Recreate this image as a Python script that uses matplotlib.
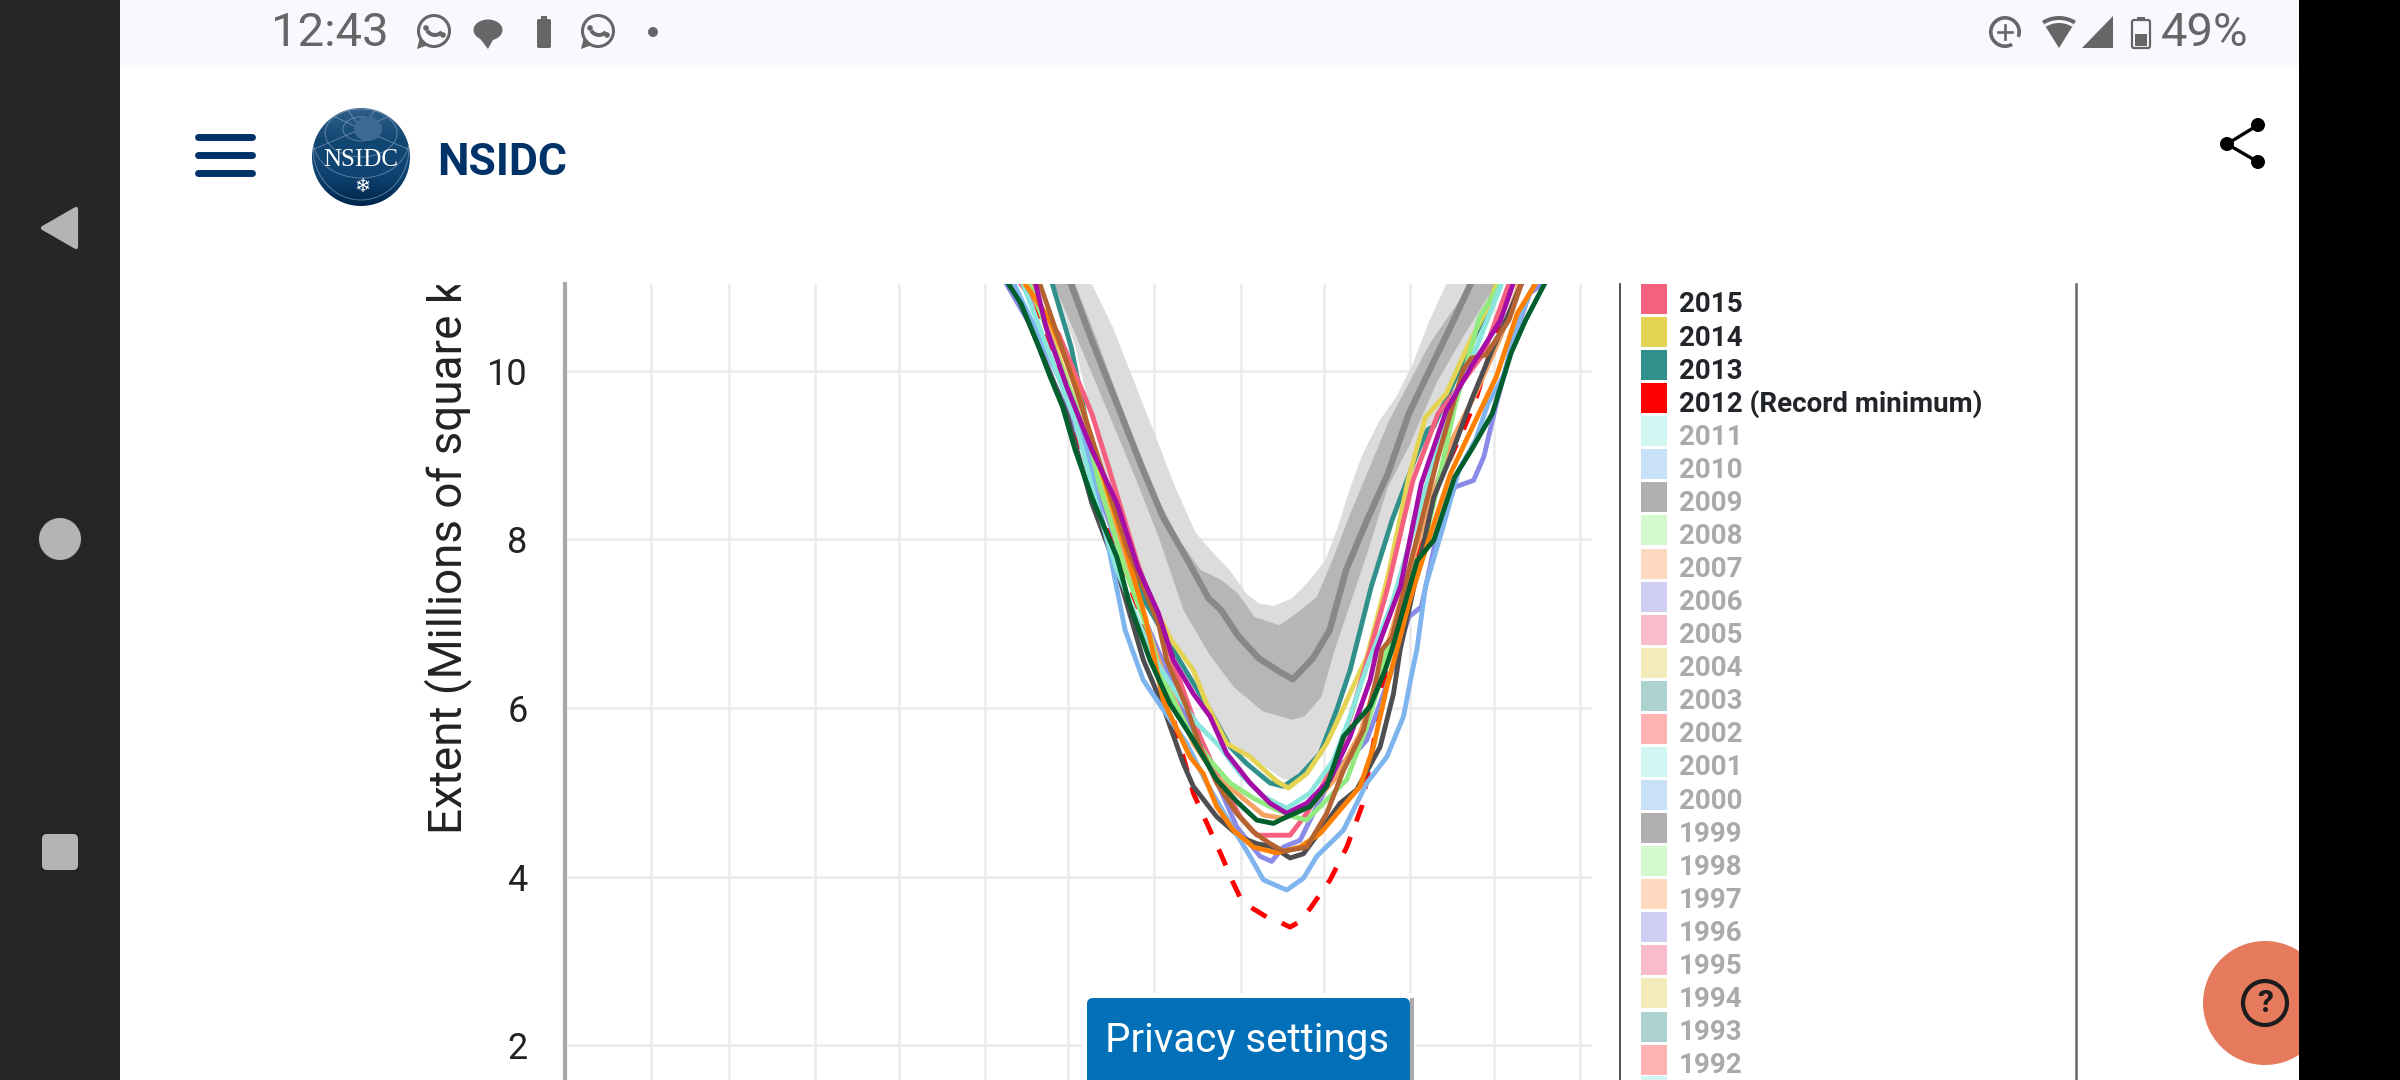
import numpy as np
import matplotlib
matplotlib.use('Agg')
import matplotlib.pyplot as plt
from matplotlib.colors import LinearSegmentedColormap
from matplotlib.patches import Rectangle, Circle, Ellipse, Polygon, Wedge, FancyBboxPatch

plt.rcParams['font.family'] = ['Roboto', 'DejaVu Sans']
plt.rcParams['lines.solid_joinstyle'] = 'round'

# Gridlines and axis ticks
month_starts = [32, 60, 91, 121, 152, 182, 213, 244, 274, 305, 335, 366]
extent_ticks = [2, 4, 6, 8, 10]

# Grey climatology (day of year, millions of square km)
doy_median = [181, 183, 190.5, 199.5, 208.5, 216, 225, 232.5, 237, 243, 250.5, 258, 262.8, 270, 276, 282, 289.5, 297, 304.5, 312, 319.5, 326.3, 329]
ext_median = [11.2, 11.03, 10.36, 9.61, 8.86, 8.27, 7.75, 7.30, 7.16, 6.86, 6.59, 6.43, 6.34, 6.59, 6.92, 7.64, 8.23, 8.78, 9.49, 10.01, 10.52, 11.0, 11.2]

doy_iqr_up = [183, 184.5, 192, 199.5, 207, 214.5, 222, 229.5, 237, 243, 249, 258, 264, 271.5, 277.5, 283.5, 289.5, 297, 304.5, 312, 319.5, 327, 330]
ext_iqr_up = [11.2, 11.03, 10.40, 9.73, 9.06, 8.47, 7.99, 7.64, 7.52, 7.36, 7.08, 6.98, 7.12, 7.32, 7.79, 8.31, 8.78, 9.38, 9.85, 10.32, 10.68, 11.03, 11.2]
doy_iqr_lo = [175, 177.8, 184.5, 192, 199.5, 207, 214.5, 223.5, 232.5, 241.5, 252, 262.5, 267, 273, 277.5, 283.5, 289.5, 297, 304.5, 315, 324, 334.5, 337]
ext_iqr_lo = [11.2, 10.96, 10.44, 9.85, 9.26, 8.66, 8.03, 7.16, 6.65, 6.25, 5.96, 5.86, 5.90, 6.13, 6.65, 7.24, 7.83, 8.62, 9.10, 9.89, 10.40, 10.96, 11.2]

doy_std_up = [189, 190.5, 198, 205.5, 213, 220.5, 228, 235.5, 240, 246, 250.5, 255.8, 262.5, 268.5, 274.5, 279, 283.5, 288, 294, 300, 306, 312, 318, 321]
ext_std_up = [11.2, 11.03, 10.52, 9.89, 9.26, 8.62, 8.07, 7.79, 7.64, 7.36, 7.24, 7.21, 7.30, 7.50, 7.75, 8.15, 8.62, 9.02, 9.41, 9.69, 10.09, 10.60, 11.03, 11.2]
doy_std_lo = [175, 177, 184.5, 192, 201, 219, 230.6, 237.8, 246.2, 259.4, 264.2, 270.2, 275, 281, 285.2, 291, 298.5, 307.5, 321, 331.5, 336, 339]
ext_std_lo = [11.2, 11.03, 10.29, 9.22, 8.03, 6.84, 6.17, 5.66, 5.46, 5.15, 5.16, 5.34, 5.66, 6.25, 6.69, 7.44, 8.23, 9.02, 9.89, 10.64, 11.03, 11.2]

# Yearly curves
doy_2012 = [166, 168, 178.5, 193.5, 208.5, 216.2, 223.4, 227, 233, 237.8, 241.4, 244, 247.4, 253.4, 258, 261.8, 265, 269, 276.2, 282.2, 287.6, 291.8, 295.4, 298.5, 310.5, 313.5, 324, 328.5, 340.5, 342.8]
ext_2012 = [11.2, 11.03, 10.0, 8.31, 7.08, 6.33, 5.42, 4.99, 4.55, 4.2, 3.92, 3.74, 3.64, 3.52, 3.46, 3.40, 3.46, 3.62, 3.96, 4.35, 4.83, 5.58, 6.29, 6.92, 8.15, 8.54, 9.29, 9.65, 10.96, 11.2]

doy_2013 = [175, 176.3, 183, 192, 199.5, 210, 220.5, 234.2, 240.2, 246.2, 254.6, 259.4, 265.4, 272.6, 278.6, 283.4, 291, 298.5, 307.5, 311.3, 313.5, 321, 331.5, 336, 338]
ext_2013 = [11.2, 11.03, 10.29, 8.82, 8.03, 7.24, 6.65, 5.90, 5.54, 5.34, 5.11, 5.07, 5.20, 5.46, 5.98, 6.45, 7.44, 8.23, 9.02, 9.30, 9.34, 9.89, 10.64, 11.03, 11.2]

doy_2014 = [167, 169.5, 184.5, 199.5, 210, 219, 227, 231.8, 239, 247.4, 257, 261.2, 267.8, 275, 281, 285.8, 289.5, 297, 304.5, 310.5, 318, 325.5, 333, 336, 338]
ext_2014 = [11.2, 11.03, 9.61, 8.19, 7.40, 6.81, 6.45, 6.05, 5.58, 5.42, 5.13, 5.05, 5.22, 5.58, 6.0, 6.35, 6.61, 7.56, 8.74, 9.45, 9.73, 10.28, 10.76, 11.03, 11.2]

doy_2015 = [162, 165, 178.5, 190.5, 196.5, 207, 216, 229.4, 235.4, 243.8, 249.8, 257, 261.8, 267.8, 278.6, 284.6, 290.6, 297, 306, 315, 322.5, 331.5, 340.5, 342]
ext_2015 = [11.2, 11.03, 10.44, 9.49, 8.86, 7.71, 6.88, 5.66, 5.22, 4.71, 4.49, 4.49, 4.49, 4.75, 5.38, 6.01, 6.69, 7.44, 8.70, 9.49, 9.81, 10.21, 11.03, 11.2]

doy_2016 = [157, 159.8, 169.5, 177, 186, 199.5, 207, 224.6, 234.2, 242.6, 251, 255.2, 259.4, 265.4, 270.2, 278.6, 284.6, 289.4, 298.5, 304.5, 309, 315, 321, 327.8, 331.5, 336, 342, 348, 352.5, 355]
ext_2016 = [11.2, 11.03, 10.48, 9.85, 9.22, 7.95, 7.24, 5.90, 5.22, 4.59, 4.24, 4.18, 4.35, 4.43, 4.75, 5.30, 5.44, 5.62, 6.45, 7.08, 7.20, 8.11, 8.62, 8.70, 8.98, 9.61, 10.36, 10.92, 11.03, 11.2]

doy_2017 = [167, 169.5, 190.5, 199.5, 210, 216.2, 227, 235.4, 242.6, 252.2, 259.4, 269, 278.6, 287, 294.2, 312, 319.5, 328.5, 337.5, 343.5, 345]
ext_2017 = [11.2, 11.03, 8.90, 8.03, 7.0, 6.41, 5.58, 5.18, 4.99, 4.73, 4.69, 4.83, 5.18, 5.70, 6.45, 8.43, 9.14, 9.73, 10.40, 10.96, 11.2]

doy_2018 = [166, 168, 184.5, 193.5, 202.5, 211.5, 215, 225.8, 233, 240.2, 248.6, 255.8, 263, 267.8, 275, 282.2, 289.4, 294.2, 296.6, 304.5, 313.5, 321, 330, 337.5, 339]
ext_2018 = [11.2, 11.03, 9.61, 8.62, 7.64, 6.84, 6.41, 5.70, 5.38, 5.11, 4.93, 4.81, 4.71, 4.67, 4.91, 5.15, 5.78, 6.33, 6.69, 7.24, 8.43, 9.57, 10.64, 11.03, 11.2]

doy_2019 = [160, 162, 181.5, 190.5, 199.5, 209, 216.2, 223.4, 227, 235.4, 243.8, 249.8, 255.8, 261.8, 266.6, 273.8, 279.8, 285.8, 294.2, 299, 301.4, 309, 313.5, 319.5, 327, 334.5, 340.5, 345, 347]
ext_2019 = [11.2, 11.03, 9.49, 8.43, 7.64, 6.57, 6.01, 5.34, 5.07, 4.71, 4.47, 4.39, 4.35, 4.22, 4.27, 4.59, 4.87, 5.03, 5.54, 6.17, 6.69, 7.83, 8.50, 8.98, 9.65, 10.25, 10.68, 11.03, 11.2]

doy_2020 = [160, 163.5, 178.5, 187.5, 196.5, 202.5, 209, 216.2, 224.6, 231.8, 240.2, 247.4, 252.2, 260.6, 266.6, 271.4, 281, 289.4, 296.6, 302.6, 305.6, 307.4, 310.5, 316.5, 322.5, 328.5, 333, 339, 342, 348, 352.5]
ext_2020 = [11.2, 10.96, 9.93, 9.22, 7.91, 6.92, 6.33, 5.98, 5.58, 5.11, 4.63, 4.24, 3.96, 3.84, 3.98, 4.24, 4.55, 5.11, 5.42, 5.90, 6.41, 6.69, 7.44, 8.11, 8.82, 9.18, 9.61, 9.97, 10.40, 10.92, 11.2]

doy_2021 = [164, 166.5, 184.5, 192, 199.5, 207, 212.6, 221, 228.2, 236.6, 243.8, 252.2, 260.6, 269, 277.4, 283.4, 289.4, 298.5, 309, 319.5, 328.5, 337.5, 339]
ext_2021 = [11.2, 10.96, 9.41, 8.43, 7.64, 7.04, 6.61, 6.17, 5.82, 5.54, 5.22, 4.95, 4.81, 4.99, 5.38, 5.90, 6.49, 7.24, 8.43, 9.61, 10.25, 11.0, 11.2]

doy_2022 = [164, 166.5, 175.5, 184.5, 193.5, 202.5, 210, 216.2, 225.8, 230.6, 235.4, 241.4, 248.6, 257, 265.4, 272.6, 279.8, 287, 291.8, 296.6, 300.2, 304.5, 312, 319.5, 328.5, 336, 343.5, 349.5, 352]
ext_2022 = [11.2, 11.03, 10.60, 9.85, 8.86, 7.91, 7.04, 6.09, 5.42, 5.22, 4.83, 4.55, 4.35, 4.28, 4.35, 4.51, 4.79, 5.07, 5.54, 6.25, 6.69, 7.24, 8.03, 8.78, 9.41, 9.93, 10.68, 11.0, 11.2]

doy_2023 = [169, 171.8, 175.5, 184.5, 195, 204, 214.5, 217.4, 224.6, 229.4, 235.4, 242.6, 248.6, 254.6, 259.4, 267.8, 275, 281, 288.2, 293, 294.8, 298.5, 306, 315, 324, 327, 332.3, 340.5, 345, 347]
ext_2023 = [11.2, 11.03, 10.68, 9.81, 8.74, 7.83, 7.0, 6.57, 6.01, 5.54, 5.11, 4.75, 4.53, 4.39, 4.30, 4.35, 4.75, 5.26, 5.74, 6.37, 6.69, 6.84, 7.83, 8.98, 10.01, 10.15, 10.19, 10.6, 11.03, 11.2]

doy_2024 = [168, 170.3, 174, 181.5, 190.5, 199.5, 207, 214.5, 219.8, 227, 233, 239, 247.4, 254.6, 260.6, 267.8, 276.2, 283.4, 290.6, 293, 301.5, 309, 318, 327, 337.5, 342, 344]
ext_2024 = [11.2, 11.03, 10.52, 9.81, 9.06, 8.43, 7.67, 7.12, 6.57, 6.17, 5.90, 5.46, 5.11, 4.87, 4.75, 4.87, 5.15, 5.66, 6.33, 6.69, 7.44, 8.66, 9.53, 10.05, 10.6, 11.03, 11.2]

doy_2025 = [158, 160.5, 165, 171, 175.5, 180, 184.5, 190.5, 199.5, 204, 211.4, 218.6, 227, 235.4, 242.6, 249.8, 255.8, 259.4, 269, 275, 281, 290.6, 296, 298.4, 307.5, 313.5, 321, 327, 334.5, 341.3, 346.5, 353.3, 356]
ext_2025 = [11.2, 11.03, 10.80, 10.32, 9.93, 9.57, 9.06, 8.50, 7.79, 7.24, 6.57, 6.05, 5.62, 5.15, 4.89, 4.67, 4.63, 4.69, 4.83, 5.07, 5.66, 6.02, 6.45, 6.69, 7.75, 7.99, 8.74, 9.06, 9.49, 10.21, 10.6, 11.03, 11.2]

# Legend column
legend_years = ['2015', '2014', '2013', '2012 (Record minimum)', '2011', '2010', '2009', '2008', '2007', '2006', '2005', '2004', '2003', '2002',
                '2001', '2000', '1999', '1998', '1997', '1996', '1995', '1994', '1993', '1992']
legend_colors = ['#f5607f', '#e5d454', '#2f908c', '#ff0000', '#d2f6f2', '#c9e1f8', '#b0b0b2', '#d3f9cd', '#fdd9bf', '#cfcff3', '#f9bccb', '#f4ebba', '#abd2cf', '#ffb3b3',
                 '#d2f6f2', '#c9e1f8', '#b0b0b2', '#d3f9cd', '#fdd9bf', '#cfcff3', '#f9bccb', '#f4ebba', '#abd2cf', '#ffb3b3']
bold_years = 4

fig = plt.figure(figsize=(24, 10.8), dpi=100, facecolor='white')

# Page layer in screen pixels, drawn under the chart
page = fig.add_axes([0, 0, 1, 1], zorder=0)
page.set_xlim(0, 2400)
page.set_ylim(1080, 0)
page.axis('off')

page.text(448, 834, 'Extent (Millions of square km)', rotation=90, ha='center', va='bottom',
          fontsize=33, color='#222222', zorder=1)
page.add_patch(Rectangle((120, 60), 2180, 224, color='white', zorder=2))

# Chart
ax = fig.add_axes([565 / 2400, 0, (1592 - 565) / 2400, (1080 - 284) / 1080], zorder=1)
ax.patch.set_alpha(0)
ax.set_xlim(1, 370.4)
ax.set_ylim(1.586, 11.03)
for name in ['top', 'right', 'bottom']:
    ax.spines[name].set_visible(False)
ax.spines['left'].set_color('#a8a8a8')
ax.spines['left'].set_linewidth(3)
ax.set_xticks(month_starts)
ax.set_xticklabels([])
ax.set_yticks(extent_ticks)
ax.tick_params(axis='x', length=0)
ax.tick_params(axis='y', length=0, pad=27, labelsize=26, labelcolor='#222222')
ax.grid(True, color='#ebebeb', linewidth=1.8)
ax.set_axisbelow(True)

ax.fill(doy_std_up + doy_std_lo[::-1], ext_std_up + ext_std_lo[::-1], color='#dcdcdc', lw=0, zorder=2)
ax.fill(doy_iqr_up + doy_iqr_lo[::-1], ext_iqr_up + ext_iqr_lo[::-1], color='#b6b6b6', lw=0, zorder=3)
ax.plot(doy_median, ext_median, color='#888888', lw=4.6, zorder=4)

line_w = 3.5
ax.plot(doy_2012, ext_2012, color='#ff0000', lw=line_w, linestyle=(0, (3.6, 3.4)), zorder=5)
ax.plot(doy_2013, ext_2013, color='#2f908c', lw=line_w, zorder=6)
ax.plot(doy_2014, ext_2014, color='#e5d454', lw=line_w, zorder=7)
ax.plot(doy_2015, ext_2015, color='#f5607f', lw=line_w, zorder=8)
ax.plot(doy_2016, ext_2016, color='#8a8ae8', lw=line_w, zorder=9)
ax.plot(doy_2017, ext_2017, color='#f6a263', lw=line_w, zorder=10)
ax.plot(doy_2018, ext_2018, color='#93ea80', lw=line_w, zorder=11)
ax.plot(doy_2019, ext_2019, color='#4d4d52', lw=line_w, zorder=12)
ax.plot(doy_2020, ext_2020, color='#7fb5ee', lw=line_w, zorder=13)
ax.plot(doy_2021, ext_2021, color='#8ae6dc', lw=line_w, zorder=14)
ax.plot(doy_2022, ext_2022, color='#ff8000', lw=line_w, zorder=15)
ax.plot(doy_2023, ext_2023, color='#b56330', lw=line_w, zorder=16)
ax.plot(doy_2024, ext_2024, color='#a40ea6', lw=line_w, zorder=17)
ax.plot(doy_2025, ext_2025, color='#005f2c', lw=line_w, zorder=18)

# Everything on top of the chart, again in screen pixels
top = fig.add_axes([0, 0, 1, 1], zorder=2)
top.set_xlim(0, 2400)
top.set_ylim(1080, 0)
top.axis('off')

# Legend
top.plot([1620, 1620], [284, 1080], color='#444444', lw=1.3)
top.plot([2076, 2076], [284, 1080], color='#666666', lw=1.8)
for i, (label, col) in enumerate(zip(legend_years, legend_colors)):
    y = 302 + 33.07 * i
    y0 = max(y - 18, 284)
    top.add_patch(Rectangle((1641, y0), 26, y + 12 - y0, color=col, lw=0))
    top.text(1679, y, label, va='center_baseline', ha='left', fontsize=20, fontweight='bold',
             color='#212529' if i < bold_years else '#aaaaaa')
top.add_patch(Rectangle((1641, 1076), 26, 4, color='#d2f6f2', lw=0))

# Privacy button
top.add_patch(Rectangle((1082, 993), 333, 87, color='white', lw=0))
top.add_patch(Rectangle((1410, 998), 4, 82, color='#aaaaaa', lw=0))
top.add_patch(FancyBboxPatch((1091, 1002), 315, 100, boxstyle='round,pad=4,rounding_size=6', color='#0270b8', lw=0))
top.text(1247, 1041, 'Privacy settings', color='white', fontsize=29, ha='center', va='center')

# Help button
top.add_patch(Circle((2265, 1003), 62, color='#e57a5c', lw=0))
top.add_patch(Circle((2265, 1003), 22, facecolor='none', edgecolor='#1c1c1c', lw=3))
top.text(2265, 1003, '?', fontsize=23, fontweight='bold', color='#1c1c1c', ha='center', va='center')

# Side bars and status bar
top.add_patch(Rectangle((0, 0), 120, 1080, color='#262626', lw=0))
top.add_patch(Rectangle((2299, 0), 101, 1080, color='black', lw=0))
top.add_patch(Rectangle((120, 0), 2179, 65, color='#f9f8ff', lw=0))

# Navigation buttons
top.add_patch(Polygon([[43, 228], [76, 209], [76, 247]], closed=True, facecolor='#b4b4b4', edgecolor='#b4b4b4', lw=3, joinstyle='round'))
top.add_patch(Circle((60, 539), 21, color='#b4b4b4', lw=0))
top.add_patch(FancyBboxPatch((44, 836), 32, 32, boxstyle='round,pad=2,rounding_size=5', color='#b4b4b4', lw=0))

# Status bar, left
grey = '#666666'
top.text(271, 33, '12:43', fontsize=34, color=grey, ha='left', va='center')
for cx in [434, 598]:
    top.add_patch(Circle((cx, 31), 15.5, facecolor='none', edgecolor=grey, lw=2.2))
    top.add_patch(Polygon([[cx - 17, 49], [cx - 14, 37], [cx - 6, 45]], closed=True, color=grey, lw=0))
    top.add_patch(Wedge((cx + 1, 26), 11, 40, 150, width=4, color=grey, lw=0))
    top.add_patch(Circle((cx - 8, 28), 2.8, color=grey, lw=0))
    top.add_patch(Circle((cx + 9, 35), 2.8, color=grey, lw=0))
top.add_patch(Ellipse((488, 30), 29, 21, color=grey, lw=0))
top.add_patch(Polygon([[478, 36], [494, 38], [488, 49]], closed=True, color=grey, lw=0))
top.add_patch(FancyBboxPatch((538, 20), 12, 27, boxstyle='round,pad=1,rounding_size=2', color=grey, lw=0))
top.add_patch(Rectangle((541, 16), 6, 4, color=grey, lw=0))
top.add_patch(Circle((653, 32), 5, color=grey, lw=0))

# Status bar, right
top.add_patch(Wedge((2005, 32), 16, 60, 20, width=3.6, color=grey, lw=0))
top.plot([1998, 2012], [32, 32], color=grey, lw=1.9)
top.plot([2005, 2005], [25, 39], color=grey, lw=1.9)
top.add_patch(Wedge((2059, 48), 32, 238, 302, color=grey, lw=0))
top.add_patch(Wedge((2059, 48), 28, 238, 302, width=3, color='#f9f8ff', lw=0))
top.add_patch(Polygon([[2082, 48], [2113, 16], [2113, 48]], closed=True, color=grey, lw=0))
top.add_patch(FancyBboxPatch((2133, 21), 16, 26, boxstyle='round,pad=1,rounding_size=2', facecolor='none', edgecolor=grey, lw=1.6))
top.add_patch(Rectangle((2135, 34), 12, 12, color=grey, lw=0))
top.add_patch(Rectangle((2137, 17), 8, 2, color=grey, lw=0))
top.text(2161, 33, '49%', fontsize=34, color=grey, ha='left', va='center')

# Site header
navy = '#00326a'
for y in [137, 155, 173]:
    top.plot([198, 252], [y, y], color=navy, lw=5, solid_capstyle='round')

logo_cmap = LinearSegmentedColormap.from_list('logo', ['#2f5f8a', '#124672', '#0f4472', '#00264d'])
logo_clip = Circle((361, 157), 49, transform=top.transData)
logo_img = top.imshow(np.linspace(0, 1, 100).reshape(-1, 1), cmap=logo_cmap, extent=(312, 410, 206, 108), aspect='auto', zorder=3)
logo_img.set_clip_path(logo_clip)
top.set_xlim(0, 2400)
top.set_ylim(1080, 0)
for ry, cy in [(12, 129), (24, 133), (38, 140), (52, 148)]:
    ring = Ellipse((361, cy), 2 * min(ry * 1.5, 48), 2 * ry, facecolor='none', edgecolor='#8fa8c2', lw=0.7, alpha=0.6, zorder=4)
    top.add_patch(ring)
    ring.set_clip_path(logo_clip)
for ex, ey in [(312, 150), (325, 112), (345, 106), (378, 106), (398, 112), (410, 150)]:
    spoke, = top.plot([361, ex], [129, ey], color='#8fa8c2', lw=0.7, alpha=0.6, zorder=4)
    spoke.set_clip_path(logo_clip)
top.add_patch(Ellipse((368, 129), 28, 24, color='#3d6a94', lw=0, zorder=4))
top.text(361, 160, 'NSIDC', family='Liberation Serif', fontsize=18, color='white', ha='center', va='center', zorder=5)
top.text(362, 186, '\u2744', family='DejaVu Sans', fontsize=14, color='white', ha='center', va='center', zorder=5)
top.text(437, 163, 'NSIDC', fontsize=32, fontweight='bold', color=navy, ha='left', va='center')

# Share icon
top.plot([2258, 2227, 2258], [125, 144, 162], color='black', lw=2.4)
for cx, cy in [(2258, 125), (2227, 144), (2258, 162)]:
    top.add_patch(Circle((cx, cy), 7, color='black', lw=0))

fig.savefig('out.png', dpi=100)
